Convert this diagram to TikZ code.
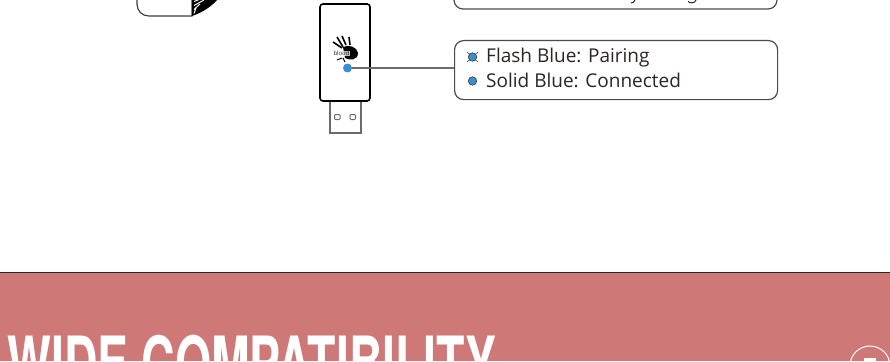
\documentclass[tikz,border=0pt]{standalone}
\usepackage{fontspec}
\setmainfont{Open Sans}
\newfontfamily\titlefont{TeX Gyre Heros}
\definecolor{bannerred}{HTML}{CE7878}
\definecolor{ledblue}{HTML}{3A8FD0}
\definecolor{linegray}{HTML}{6E6A68}
\definecolor{textdark}{HTML}{2B2523}

\begin{document}
\begin{tikzpicture}[x=1pt,y=-1pt]
	\tikzstyle{callout}=[draw=linegray!70!black,line width=1.2pt,rounded corners=9pt,fill=white]
	\tikzstyle{legendtext}=[anchor=base west,inner sep=0pt,text=textdark,font=\fontsize{19}{19}\selectfont]
	\tikzstyle{led}=[circle,fill=ledblue,draw=none,inner sep=0pt]
	\tikzstyle{legendled}=[led,draw=textdark,line width=0.5pt,minimum size=8.5pt]
	\useasboundingbox (0,0) rectangle (890,361);
	\clip (0,0) rectangle (890,361);
	% banner
	\fill[bannerred] (0,272) rectangle (890,361);
	\draw[textdark,line width=1pt] (0,272.5) -- (890,272.5);
	\node (title) [anchor=base west,inner sep=0pt,text=white,font=\titlefont\bfseries\fontsize{72}{72}\selectfont,xscale=0.645] at (7.5,388.5) {WIDE COMPATIBILITY};
	\draw[white,line width=1pt] (870,366) circle (20);
	\fill[white] (864,358) rectangle (876,361);
	% mouse
	\draw[linegray!60!black,line width=1.2pt,fill=white] (137,-5) -- (137,4) .. controls (137,11) and (142,16) .. (149,16) -- (192,16) -- (192,-5);
	\fill[black] (192,16) .. controls (204,12) and (213,5) .. (219,-2) -- (192,-2) -- cycle;
	\foreach \yy in {0,4,8,12} {
		\draw[white,line width=1pt] (194,\yy+1.5) -- (208-\yy,\yy-4);
	}
	% dongle
	\draw[linegray,line width=1.3pt,fill=white] (330,101) rectangle (361,133);
	\draw[linegray,line width=1pt,rounded corners=1pt] (334.5,114.5) rectangle (340,119.5);
	\draw[linegray,line width=1pt,rounded corners=1pt] (350,114.5) rectangle (355.5,119.5);
	\node (dongle) [draw=black,line width=1.6pt,rounded corners=3pt,minimum width=50pt,minimum height=97pt,inner sep=0pt] at (345,52.5) {};
	% logo
	\foreach \xa/\ya/\xb/\yb in {333/42/342/48, 337/37/343/47, 342/36/346/45, 349/37/350/45} {
		\draw[black,line width=1.6pt] (\xa,\ya) -- (\xb,\yb);
	}
	\fill[black] (343,47) .. controls (349,44) and (357,47) .. (358,53) .. controls (358,60) and (350,61) .. (345,58) -- cycle;
	\node (logotext) [inner sep=0.3pt,font=\fontsize{6}{6}\selectfont,text=textdark,fill=white,fill opacity=0.75,text opacity=1] at (341.5,53.5) {blo\kern-0.2pt od};
	\draw[black,line width=1pt] (337,60) -- (342,58) (343,58) -- (345,62);
	% callouts
	\draw[callout] (454,-20) rectangle (777,9);
	\draw[textdark,line width=1pt] (631,3) .. controls (633,3) and (634,2) .. (635,0);
	\draw[textdark,line width=1pt] (688,1.5) .. controls (690,3.5) and (695,3.5) .. (696,0);
	\node (pairbox) [callout,anchor=north west,minimum width=323pt,minimum height=59pt,inner sep=0pt] at (454,40) {};
	\node (dongleled) [led,minimum size=9pt] at (347.5,68) {};
	\draw[linegray,line width=1.2pt] (dongleled) -- (dongleled -| pairbox.west);
	\draw[textdark,line width=0.5pt] (467,52) -- (478,62) (478,52) -- (467,62);
	\node (flashled) [legendled] at (472.5,57) {};
	\node (solidled) [legendled] at (472.5,81) {};
	\node (flashtext) [legendtext] at (486,63) {Flash Blue: Pairing};
	\node (solidtext) [legendtext] at (486,87) {Solid Blue: Connected};
\end{tikzpicture}
\end{document}
